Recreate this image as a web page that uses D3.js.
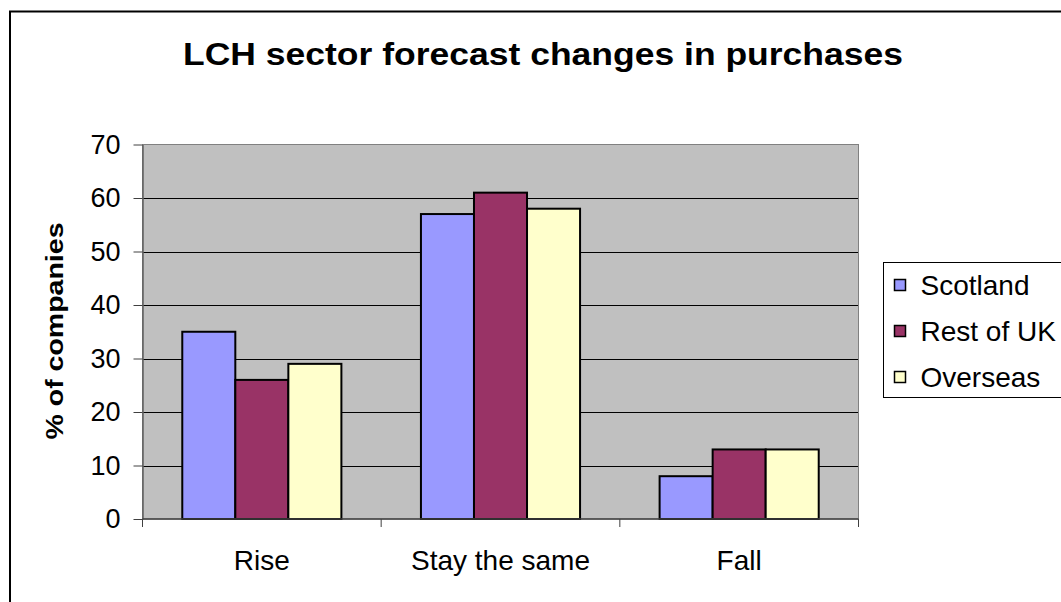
<!DOCTYPE html>
<html>
<head>
<meta charset="utf-8">
<script src="https://cdn.jsdelivr.net/npm/d3@7"></script>
<style>
  html, body { margin: 0; padding: 0; background: #fff; }
  svg { display: block; }
  text { font-family: "Liberation Sans", Arial, Helvetica, sans-serif; fill: #000; }
</style>
</head>
<body>
<svg id="chart" width="1061" height="602"></svg>
<script>
// Survey answers: share of companies per forecast direction
const categories = ["Rise", "Stay the same", "Fall"];
const seriesNames = ["Scotland", "Rest of UK", "Overseas"];
const scotland = [35, 57, 8];
const restOfUK = [26, 61, 13];
const overseas = [29, 58, 13];
const yTicks = [0, 10, 20, 30, 40, 50, 60, 70];
const seriesColors = ["#9999FF", "#993366", "#FFFFCC"];

const seriesValues = [scotland, restOfUK, overseas];
const rows = categories.map((c, i) => ({
  category: c,
  values: seriesNames.map((s, j) => ({ series: s, value: seriesValues[j][i] }))
}));

const svg = d3.select("#chart");

// Outer chart frame
svg.append("rect")
  .attr("x", 10).attr("y", 11.5)
  .attr("width", 1070).attr("height", 620)
  .attr("fill", "#fff").attr("stroke", "#000").attr("stroke-width", 2);

const plot = { left: 142.5, right: 858.5, top: 144.5, bottom: 519 };

const x0 = d3.scaleBand()
  .domain(categories)
  .range([plot.left, plot.right])
  .paddingInner(0).paddingOuter(0);

const x1 = d3.scaleBand()
  .domain(seriesNames)
  .range([0, x0.bandwidth()])
  .paddingInner(0).paddingOuter(0.75);

const y = d3.scaleLinear().domain([0, 70]).range([plot.bottom, plot.top]);
const color = d3.scaleOrdinal().domain(seriesNames).range(seriesColors);

// Plot area background
svg.append("rect")
  .attr("x", plot.left).attr("y", plot.top)
  .attr("width", plot.right - plot.left).attr("height", plot.bottom - plot.top)
  .attr("fill", "#C0C0C0");

// Horizontal gridlines
svg.append("g")
  .selectAll("line")
  .data(yTicks.filter(t => t > 0 && t < 70))
  .join("line")
  .attr("x1", plot.left).attr("x2", plot.right)
  .attr("y1", d => Math.round(y(d)) + 0.5).attr("y2", d => Math.round(y(d)) + 0.5)
  .attr("stroke", "#000").attr("stroke-width", 1);

// Plot area border
svg.append("rect")
  .attr("x", plot.left).attr("y", plot.top)
  .attr("width", plot.right - plot.left).attr("height", plot.bottom - plot.top)
  .attr("fill", "none").attr("stroke", "#808080").attr("stroke-width", 1);

// Bars
const groups = svg.append("g")
  .selectAll("g")
  .data(rows)
  .join("g")
  .attr("transform", d => `translate(${x0(d.category)},0)`);

groups.selectAll("rect")
  .data(d => d.values)
  .join("rect")
  .attr("x", d => x1(d.series))
  .attr("y", d => y(d.value))
  .attr("width", x1.bandwidth())
  .attr("height", d => y(0) - y(d.value))
  .attr("fill", d => color(d.series))
  .attr("stroke", "#000")
  .attr("stroke-width", 2);

// Y axis
const yAxis = svg.append("g")
  .attr("transform", `translate(${plot.left},0)`)
  .call(d3.axisLeft(y).tickValues(yTicks).tickSize(9).tickPadding(13).tickSizeOuter(0));
yAxis.select(".domain").attr("stroke", "#606060").attr("stroke-width", 1.5);
yAxis.selectAll(".tick line").attr("stroke", "#404040");
yAxis.selectAll(".tick text")
  .style("font-family", "'Liberation Sans', Arial, sans-serif")
  .style("font-size", "27px").attr("fill", "#000");

// X axis: baseline with tick marks at category boundaries
const boundaries = categories.map(c => x0(c)).concat([x0(categories[categories.length - 1]) + x0.bandwidth()]);
svg.append("line")
  .attr("x1", plot.left).attr("x2", plot.right)
  .attr("y1", plot.bottom).attr("y2", plot.bottom)
  .attr("stroke", "#404040").attr("stroke-width", 1.5);
svg.append("g")
  .selectAll("line")
  .data(boundaries)
  .join("line")
  .attr("x1", d => d).attr("x2", d => d)
  .attr("y1", plot.bottom).attr("y2", plot.bottom + 8)
  .attr("stroke", "#404040").attr("stroke-width", 1);

const xAxis = svg.append("g")
  .attr("transform", `translate(0,${plot.bottom})`)
  .call(d3.axisBottom(x0).tickSize(0).tickPadding(31));
xAxis.select(".domain").remove();
xAxis.selectAll(".tick text")
  .style("font-family", "'Liberation Sans', Arial, sans-serif")
  .style("font-size", "28px").attr("fill", "#000");

// Chart title
svg.append("text")
  .attr("x", 543).attr("y", 65)
  .attr("text-anchor", "middle")
  .attr("textLength", 720).attr("lengthAdjust", "spacingAndGlyphs")
  .style("font-size", "31px").style("font-weight", "bold")
  .text("LCH sector forecast changes in purchases");

// Y axis title
svg.append("text")
  .attr("transform", "translate(63,331) rotate(-90)")
  .attr("text-anchor", "middle")
  .attr("textLength", 217).attr("lengthAdjust", "spacingAndGlyphs")
  .style("font-size", "24px").style("font-weight", "bold")
  .text("% of companies");

// Legend
const legend = svg.append("g");
legend.append("rect")
  .attr("x", 883.5).attr("y", 262.5)
  .attr("width", 200).attr("height", 135)
  .attr("fill", "#fff").attr("stroke", "#000").attr("stroke-width", 1);

const items = legend.selectAll("g.item")
  .data(seriesNames)
  .join("g")
  .attr("class", "item")
  .attr("transform", (d, i) => `translate(0,${285 + i * 46})`);

items.append("rect")
  .attr("x", 894.5).attr("y", -5.5)
  .attr("width", 11).attr("height", 11)
  .attr("fill", d => color(d))
  .attr("stroke", "#000").attr("stroke-width", 1.5);

items.append("text")
  .attr("x", 920.5).attr("y", 10)
  .style("font-size", "28px")
  .text(d => d);
</script>
</body>
</html>
